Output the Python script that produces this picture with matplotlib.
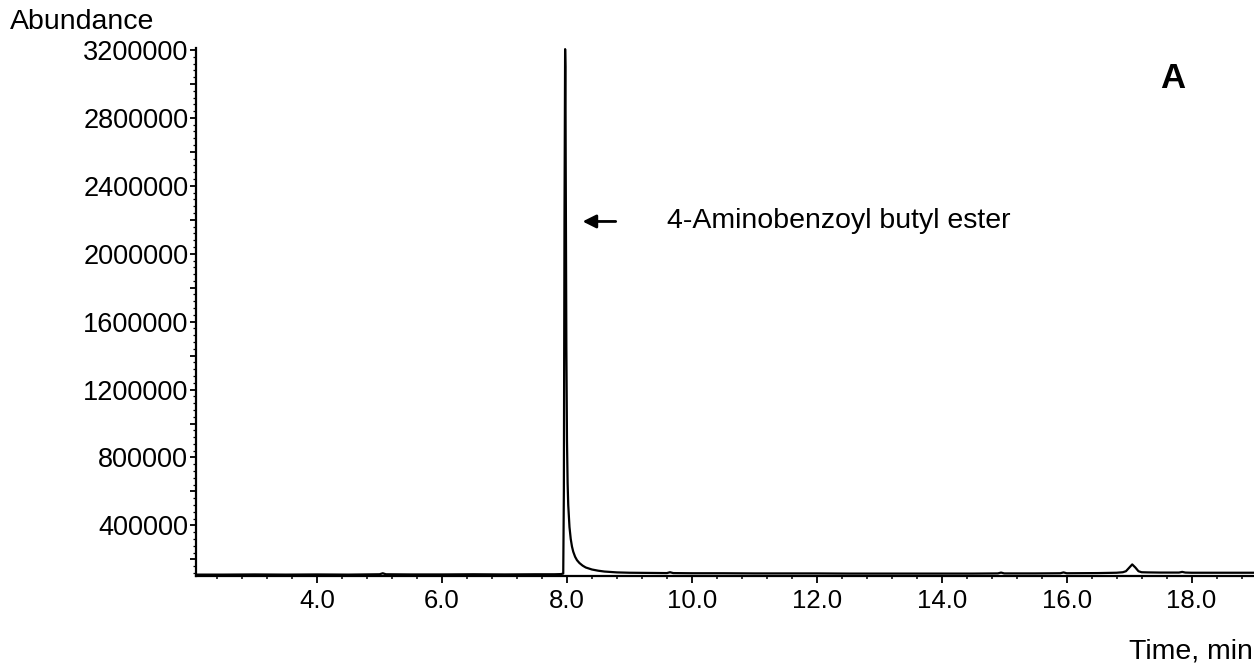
import matplotlib
matplotlib.use("Agg")
import matplotlib.pyplot as plt
from matplotlib.ticker import MultipleLocator, FixedLocator, FuncFormatter

plt.rcParams['font.family'] = ['Liberation Sans', 'DejaVu Sans']

# Total ion chromatogram: retention time (min) and abundance
time_min = [
    2.06, 2.5, 3.0, 3.5, 4.0, 4.5, 5.0, 5.05, 5.1, 5.5, 6.0, 6.5, 7.0, 7.5,
    7.80, 7.90, 7.94, 7.95, 7.96, 7.97, 7.975, 7.98, 7.99, 8.00, 8.01, 8.02,
    8.04, 8.06, 8.08, 8.10, 8.13, 8.16, 8.20, 8.25, 8.30, 8.40, 8.50, 8.60,
    8.80, 9.00, 9.30, 9.60, 9.65, 9.70, 10.0, 10.5, 11.0, 11.5, 12.0, 12.5,
    13.0, 13.5, 14.0, 14.5, 14.9, 14.95, 15.0, 15.5, 15.9, 15.95, 16.0, 16.5,
    16.8, 16.9, 16.95, 17.0, 17.05, 17.1, 17.15, 17.2, 17.3, 17.5, 17.8,
    17.85, 17.9, 18.0, 18.5, 19.0,
]
abundance = [
    110000, 110000, 111000, 110000, 111000, 110000, 112000, 118000, 112000,
    111000, 111000, 112000, 111000, 112000,
    112000, 113000, 116000, 600000, 2200000, 3205000, 3100000, 2500000,
    1450000, 900000, 650000, 520000,
    390000, 320000, 275000, 245000, 215000, 195000, 178000, 163000, 152000,
    140000, 133000, 128000,
    123000, 121000, 120000, 119000, 124000, 119000, 118000, 118000, 117000,
    117000, 117000, 116000,
    116000, 116000, 116000, 116000, 117000, 122000, 117000, 117000, 118000,
    123000, 118000, 119000,
    121000, 124000, 130000, 150000, 170000, 152000, 130000, 124000, 123000,
    122000, 122000,
    126000, 122000, 121000, 121000, 121000,
]

x_major = [4.0, 6.0, 8.0, 10.0, 12.0, 14.0, 16.0, 18.0]
y_labels = [400000, 800000, 1200000, 1600000, 2000000, 2400000, 2800000, 3200000]

fig = plt.figure(figsize=(12.54, 6.70), dpi=100)
ax = fig.add_axes([196 / 1254, 1 - 576 / 670, 1 - 196 / 1254, (576 - 48) / 670])

ax.plot(time_min, abundance, color='black', linewidth=1.6, solid_joinstyle='round')

ax.set_xlim(2.06, 19.0)
ax.set_ylim(101800, 3211700)

for side in ('top', 'right'):
    ax.spines[side].set_visible(False)
for side in ('left', 'bottom'):
    ax.spines[side].set_linewidth(1.6)

ax.xaxis.set_major_locator(FixedLocator(x_major))
ax.xaxis.set_minor_locator(MultipleLocator(0.4))
ax.xaxis.set_major_formatter(FuncFormatter(lambda v, p: f"{v:.1f}"))

ax.yaxis.set_major_locator(MultipleLocator(200000))
ax.yaxis.set_minor_locator(MultipleLocator(40000))
ax.yaxis.set_major_formatter(
    FuncFormatter(lambda v, p: f"{int(round(v))}" if int(round(v)) in y_labels else ""))

ax.tick_params(axis='x', which='major', length=5, width=1.3, pad=4, labelsize=18.5)
ax.tick_params(axis='x', which='minor', length=2.5, width=1.1)
ax.tick_params(axis='y', which='major', length=4, width=1.3, pad=1.5, labelsize=19.5)
ax.tick_params(axis='y', which='minor', length=2, width=0.9)

# Peak label with arrow
ax.annotate('', xy=(8.25, 2190000), xytext=(8.78, 2190000),
            arrowprops=dict(arrowstyle='-|>', color='black', lw=2,
                            mutation_scale=20, shrinkA=0, shrinkB=0))
ax.text(9.6, 2190000, '4-Aminobenzoyl butyl ester', fontsize=20.5,
        ha='left', va='center')

fig.text(10 / 1254, 1 - 22 / 670, 'Abundance', fontsize=20.5, ha='left', va='center')
fig.text(1253 / 1254, 1 - 652 / 670, 'Time, min', fontsize=20.5, ha='right', va='center')
fig.text(1173 / 1254, 1 - 78 / 670, 'A', fontsize=25, fontweight='bold',
         ha='center', va='center')

fig.savefig('out.png', dpi=100, facecolor='white')
